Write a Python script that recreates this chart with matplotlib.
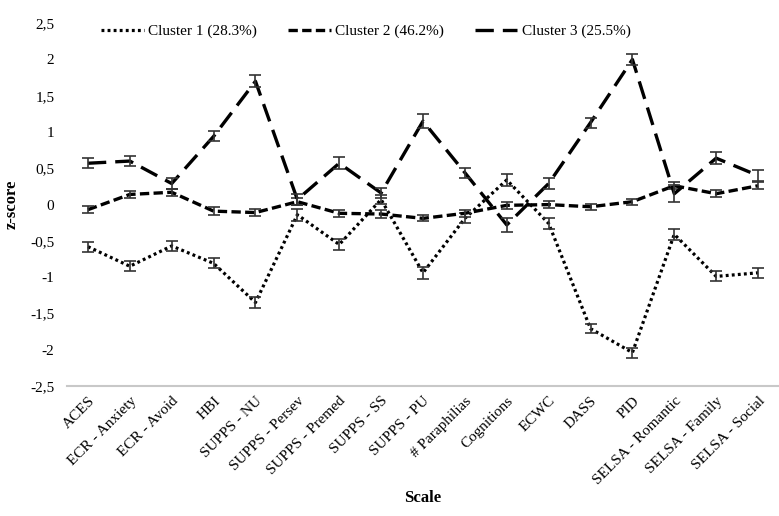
import matplotlib.pyplot as plt
from matplotlib.ticker import FuncFormatter
import numpy as np

scales = ['ACES', 'ECR - Anxiety', 'ECR - Avoid', 'HBI', 'SUPPS - NU', 'SUPPS - Persev',
          'SUPPS - Premed', 'SUPPS - SS', 'SUPPS - PU', '# Paraphilias', 'Cognitions',
          'ECWC', 'DASS', 'PID', 'SELSA - Romantic', 'SELSA - Family', 'SELSA - Social']

cluster1 = [-0.58, -0.85, -0.57, -0.81, -1.35, -0.14, -0.55, 0.07, -0.94, -0.19,
            0.34, -0.26, -1.71, -2.04, -0.41, -0.99, -0.94]
cluster1_err = [0.07, 0.07, 0.07, 0.07, 0.07, 0.08, 0.07, 0.06, 0.08, 0.07,
                0.08, 0.08, 0.06, 0.07, 0.08, 0.07, 0.07]

cluster2 = [-0.07, 0.14, 0.17, -0.09, -0.11, 0.04, -0.12, -0.13, -0.19, -0.12,
            -0.01, 0.0, -0.03, 0.04, 0.26, 0.15, 0.26]
cluster2_err = [0.05, 0.05, 0.05, 0.05, 0.05, 0.05, 0.05, 0.05, 0.04, 0.05,
                0.05, 0.05, 0.04, 0.04, 0.05, 0.05, 0.05]

cluster3 = [0.57, 0.60, 0.29, 0.94, 1.70, 0.07, 0.57, 0.16, 1.15, 0.44,
            -0.28, 0.29, 1.13, 2.0, 0.15, 0.64, 0.40]
cluster3_err = [0.07, 0.07, 0.07, 0.07, 0.08, 0.07, 0.08, 0.07, 0.1, 0.07,
                0.1, 0.07, 0.07, 0.07, 0.12, 0.08, 0.08]

labels = ['Cluster 1 (28.3%)', 'Cluster 2 (46.2%)', 'Cluster 3 (25.5%)']

plt.rcParams['font.family'] = ['Liberation Serif', 'DejaVu Serif']

fig = plt.figure(figsize=(7.79, 5.16), dpi=100)
ax = fig.add_axes([0.086, 0.252, 0.914, 0.703])

x = np.arange(len(scales))
styles = [(0, (0.9, 1.0)), (0, (2.8, 1.3)), (0, (5.5, 2.7))]
widths = [2.3, 2.4, 2.4]
series = [(cluster1, cluster1_err), (cluster2, cluster2_err), (cluster3, cluster3_err)]

for (vals, errs), ls, lw, lab in zip(series, styles, widths, labels):
    ax.plot(x, vals, color='black', linestyle=ls, linewidth=lw, label=lab)
    ax.errorbar(x, vals, yerr=errs, fmt='none', ecolor='#333333', elinewidth=1.2,
                capsize=4, capthick=1.2)

ax.set_xlim(-0.5, len(scales) - 0.5)
ax.set_ylim(-2.5, 2.5)
ax.set_yticks(np.arange(-2.5, 2.51, 0.5))
ax.yaxis.set_major_formatter(FuncFormatter(lambda v, p: ('%g' % v).replace('.', ',')))
ax.set_xticks(x)
ax.set_xticklabels(scales, rotation=45, ha='right', rotation_mode='anchor', fontsize=11)
ax.tick_params(axis='y', labelsize=11, length=0, pad=9)
ax.tick_params(axis='x', length=0, pad=6)

for s in ['top', 'right', 'left']:
    ax.spines[s].set_visible(False)
ax.spines['bottom'].set_color('#c8c8c8')
ax.spines['bottom'].set_linewidth(1.5)

ax.set_ylabel('z-score', fontsize=12, fontweight='bold')
ax.yaxis.set_label_coords(-0.066, 0.5)
ax.set_xlabel('Scale', fontsize=12, fontweight='bold', labelpad=2)

ax.legend(loc='upper center', bbox_to_anchor=(0.42, 1.035), ncol=3, frameon=False,
          fontsize=11, handlelength=2.8, columnspacing=2.0, handletextpad=0.3)

fig.savefig('out.png', dpi=100)
